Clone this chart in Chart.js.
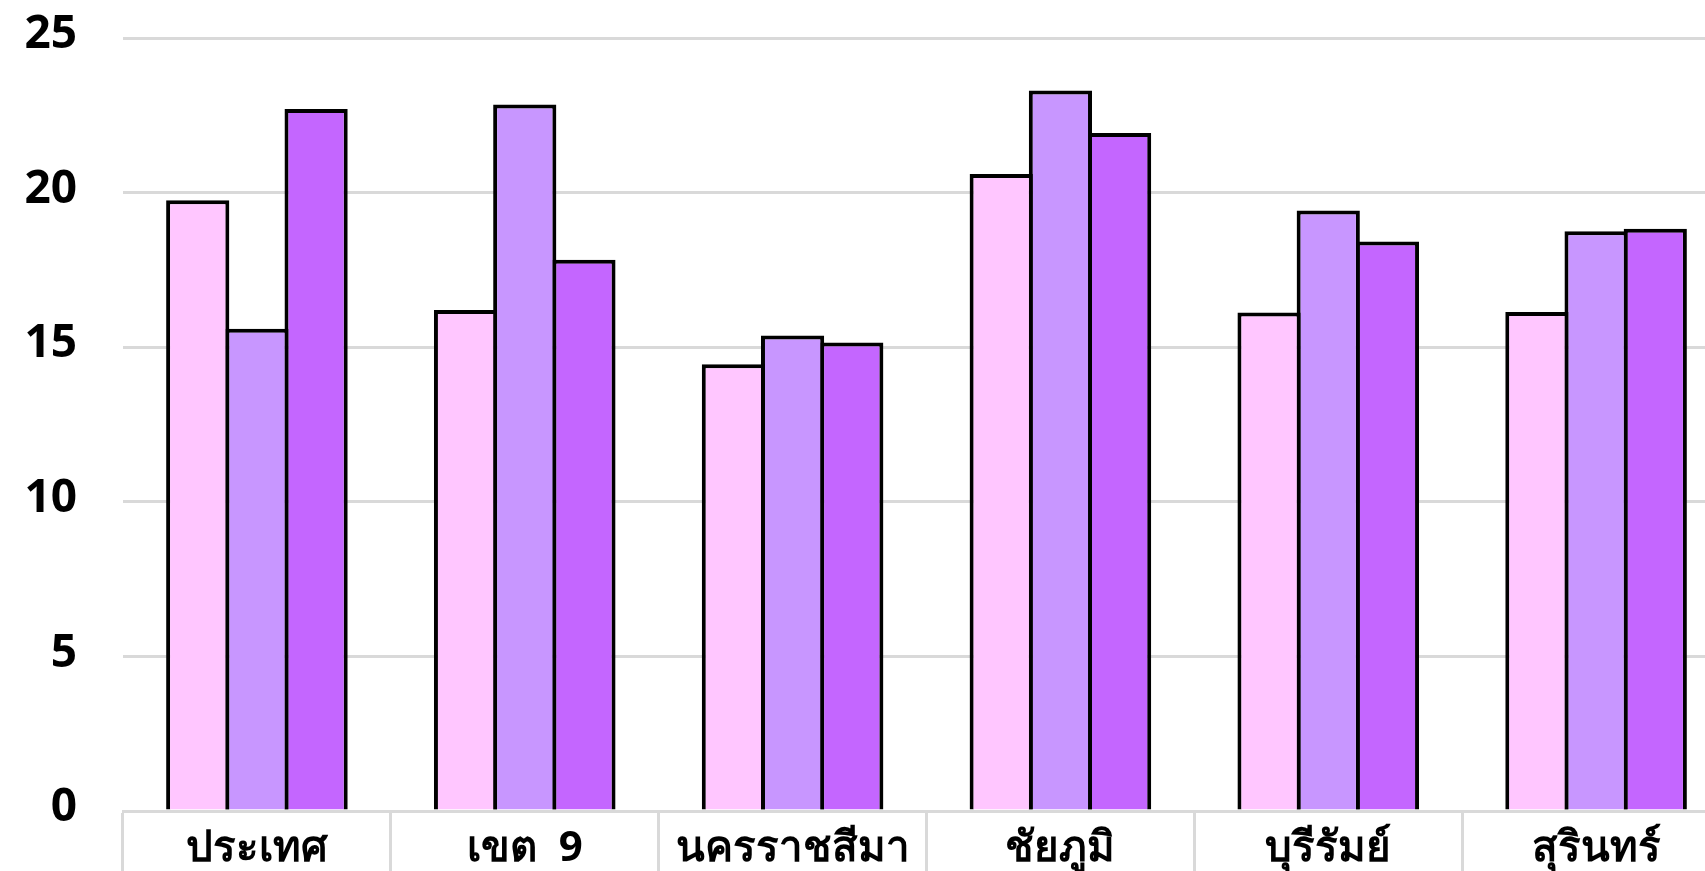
<!DOCTYPE html>
<html>
<head>
<meta charset="utf-8">
<script src="https://cdn.jsdelivr.net/npm/chart.js@4"></script>
<style>
  html, body { margin: 0; padding: 0; background: #ffffff; overflow: hidden; }
  #wrap { width: 1730px; height: 871px; }
</style>
</head>
<body>
<div id="wrap"><canvas id="c" width="1730" height="871"></canvas></div>
<script>
const categories = ["ประเทศ", "เขต  9", "นครราชสีมา", "ชัยภูมิ", "บุรีรัมย์", "สุรินทร์"];
const series1 = [19.75, 16.2, 14.45, 20.6, 16.12, 16.14];
const series2 = [15.6, 22.85, 15.38, 23.3, 19.42, 18.75];
const series3 = [22.7, 17.83, 15.15, 21.93, 18.42, 18.83];
const yTicks = [0, 5, 10, 15, 20, 25];

const colors = ["#FFC6FF", "#C896FF", "#C466FF"];
const gridColor = "#d9d9d9";
const fontFamily = "'Noto Sans', 'DejaVu Sans', sans-serif";

function ds(data, color) {
  return {
    data: data,
    backgroundColor: color,
    borderColor: "#000000",
    borderWidth: 4,
    borderSkipped: "bottom",
    categoryPercentage: 0.663,
    barPercentage: 1.068
  };
}

new Chart(document.getElementById("c"), {
  type: "bar",
  data: {
    labels: categories,
    datasets: [ds(series1, colors[0]), ds(series2, colors[1]), ds(series3, colors[2])]
  },
  options: {
    responsive: false,
    animation: false,
    devicePixelRatio: 1,
    layout: { padding: { top: 38, left: 0, right: 0, bottom: 0 } },
    plugins: { legend: { display: false }, tooltip: { enabled: false }, title: { display: false } },
    scales: {
      x: {
        grid: {
          offset: true,
          drawOnChartArea: false,
          drawTicks: true,
          tickLength: 60,
          color: gridColor,
          lineWidth: 3
        },
        border: { display: true, color: gridColor, width: 3 },
        ticks: {
          color: "#000000",
          padding: -47,
          maxRotation: 0,
          autoSkip: false,
          font: { family: fontFamily, size: 42, weight: "bold" }
        },
        afterFit: function (scale) {
          scale.height = 60;
          scale.paddingLeft = 0; scale.paddingRight = 0;
        }
      },
      y: {
        min: 0,
        max: 25,
        afterBuildTicks: function (scale) { scale.ticks = yTicks.map(v => ({ value: v })); },
        grid: { drawTicks: false, color: gridColor, lineWidth: 3 },
        border: { display: false },
        ticks: {
          color: "#000000",
          padding: 46,
          labelOffset: -3,
          font: { family: fontFamily, size: 46, weight: "bold" }
        },
        afterFit: function (scale) {
          scale.width = 123;
          scale.paddingTop = 0; scale.paddingBottom = 0;
        }
      }
    }
  }
});
</script>
</body>
</html>
